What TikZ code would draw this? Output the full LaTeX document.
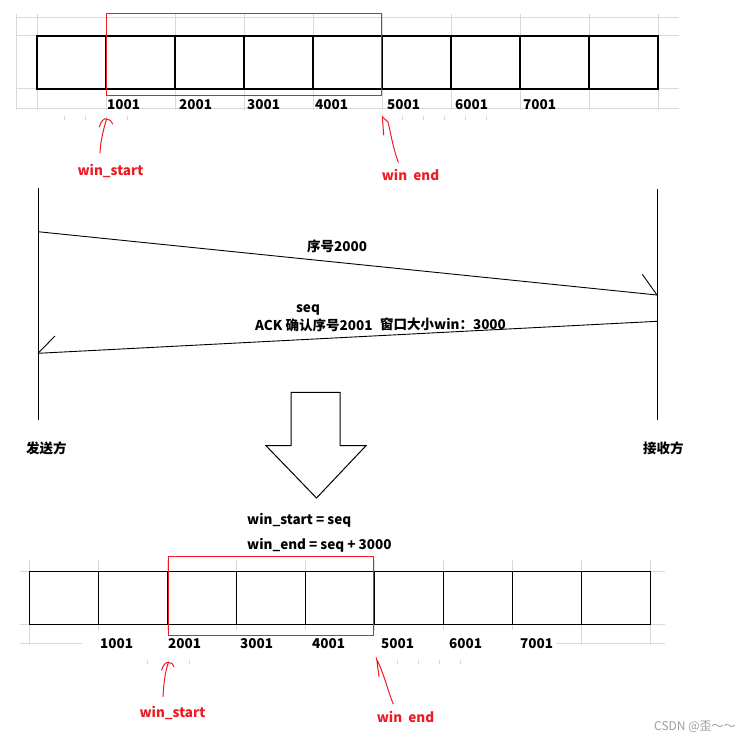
\documentclass[tikz,border=0pt]{standalone}
\usepackage{fontspec}
\setmainfont{Noto Sans CJK SC}
\definecolor{redmark}{RGB}{237,28,36}
\definecolor{gridgray}{RGB}{217,217,217}
\definecolor{wmgray}{RGB}{160,160,160}
\begin{document}
\begin{tikzpicture}[x=1pt,y=-1pt,
  cellbox/.style={draw=black,line width=1.2pt,minimum width=69pt,minimum height=53pt,inner sep=0pt,outer sep=0pt,anchor=north west},
  txt/.style={font=\bfseries\fontsize{13.5}{16}\selectfont,inner sep=0pt},
  num/.style={txt,anchor=west},
  redtxt/.style={txt,text=redmark},
  gridline/.style={draw=gridgray,line width=1pt},
  redwin/.style={draw=redmark,line width=1pt},
  squiggle/.style={draw=redmark,line width=1pt,line cap=round},
  msg/.style={draw=black,line width=0.9pt},
  life/.style={draw=black,line width=1pt}
]
\useasboundingbox[fill=white] (0,0) rectangle (751,741);

% ---------- top grid ----------
\foreach \yy in {17.3,36,89,108.3} \draw[gridline] (16,\yy) -- (679,\yy);
\draw[gridline] (16,14) -- (16,110);
\foreach \k in {0,...,9} \draw[gridline] ({37+69*\k},14) -- ({37+69*\k},110);
\foreach \xx in {64.3,85.7,106.7,127.7,402.7,423.7,444.7,465.7,486.7}
  \draw[gridline] (\xx,115.7) -- (\xx,120);

% ---------- top cells ----------
\foreach \i in {1,...,9} \node[cellbox] (t\i) at ({37+69*(\i-1)},36) {};
\draw[redwin] (106.7,13.3) rectangle (381.7,96);

\node[num] (tl1) at (107,105) {1001};
\node[num] (tl2) at (179,105) {2001};
\node[num] (tl3) at (247,105) {3001};
\node[num] (tl4) at (315,105) {4001};
\node[num] (tl5) at (387,105) {5001};
\node[num] (tl6) at (455,105) {6001};
\node[num] (tl7) at (523,105) {7001};

% top markers
\draw[squiggle] (100,153) .. controls (100.5,140) and (104,128) .. (106.5,119);
\draw[squiggle] (99.3,127) .. controls (101,121) and (104,118) .. (106.5,119) .. controls (109,119) and (112,121) .. (112.7,124);
\node[redtxt] (tws) at (110.5,170.7) {win\_start};
\draw[squiggle] (398.3,162.3) .. controls (393,148) and (390,130) .. (388,122) -- (382.3,116.7) -- (383.7,135);
\node[redtxt] (twe) at (410.5,175) {win\ \ end};

% ---------- sequence part ----------
\coordinate (sTop) at (38,188);
\coordinate (sBot) at (38,420);
\coordinate (rTop) at (657,189);
\coordinate (rBot) at (657,420);
\draw[life] (sTop) -- (sBot);
\draw[life] (rTop) -- (rBot);

\coordinate (a1s) at (38,231.7);
\coordinate (a1e) at (657,295);
\coordinate (b1) at (642.3,274.3);
\draw[msg] (a1s) -- (a1e);
\draw[msg] (a1e) -- (b1);

\coordinate (a2s) at (657,321.3);
\coordinate (a2e) at (38,353.3);
\coordinate (b2) at (55,336);
\draw[msg] (a2s) -- (a2e);
\draw[msg] (a2e) -- (b2);

\node[num] (m1) at (307,246) {序号2000};
\node[txt] (m2) at (308,310) {seq};
\node[num] (m3) at (255,325.7) {ACK 确认序号2001};
\node[num] (m4) at (380,324) {窗口大小win：3000};

\node[num] (snd) at (26,448.7) {发送方};
\node[num] (rcv) at (643,448) {接收方};

% block arrow
\draw[line width=1pt] (291,392.3) -- (340,392.3) -- (340,445.7) -- (366,445.7) -- (316.5,498) -- (266,445.7) -- (291,445.7) -- cycle;

\node[num] (f1) at (247,520.7) {win\_start = seq};
\node[num] (f2) at (247,545) {win\_end = seq + 3000};

% ---------- bottom grid ----------
\foreach \yy in {571.3,624.3} \draw[gridline] (20,\yy) -- (665,\yy);
\draw[gridline] (20,643.3) -- (82,643.3);
\draw[gridline] (556,643.3) -- (665,643.3);
\foreach \k in {0,8,9} \draw[gridline] ({29.3+69*\k},560) -- ({29.3+69*\k},645);
\foreach \k in {1,...,7} {
  \draw[gridline] ({29.3+69*\k},560) -- ({29.3+69*\k},571);
  \draw[gridline] ({29.3+69*\k},624) -- ({29.3+69*\k},630);
}
\foreach \xx in {147.7,168.3,189.3,397.3,418.3,439.7,460.3}
  \draw[gridline] (\xx,660) -- (\xx,664);

% ---------- bottom cells ----------
\foreach \i in {1,...,9} \node[cellbox] (u\i) at ({29.3+69*(\i-1)},571.3) {};
\draw[redwin] (168.3,556.3) rectangle (373.3,635.3);

\node[num] (bl1) at (100,644) {1001};
\node[num] (bl2) at (168,644) {2001};
\node[num] (bl3) at (240,644) {3001};
\node[num] (bl4) at (312,644) {4001};
\node[num] (bl5) at (381,644) {5001};
\node[num] (bl6) at (449,644) {6001};
\node[num] (bl7) at (520,644) {7001};

% bottom markers
\draw[squiggle] (163,696.7) .. controls (163.5,685) and (165,673) .. (168.3,662.3);
\draw[squiggle] (161.7,670) .. controls (163,665) and (166,662) .. (168.3,662.3) .. controls (171,662.5) and (173.5,664) .. (174,666.7);
\node[redtxt] (bws) at (172.5,713) {win\_start};
\draw[squiggle] (393.3,704) .. controls (388,692) and (385,676) .. (376.7,659.3) -- (379,676.7);
\node[redtxt] (bwe) at (405.5,717) {win\ \ end};

% watermark
\node[anchor=west,inner sep=0pt,text=wmgray,font=\fontsize{12}{14}\selectfont] (wm) at (654,727) {CSDN @歪～～};
\end{tikzpicture}
\end{document}
